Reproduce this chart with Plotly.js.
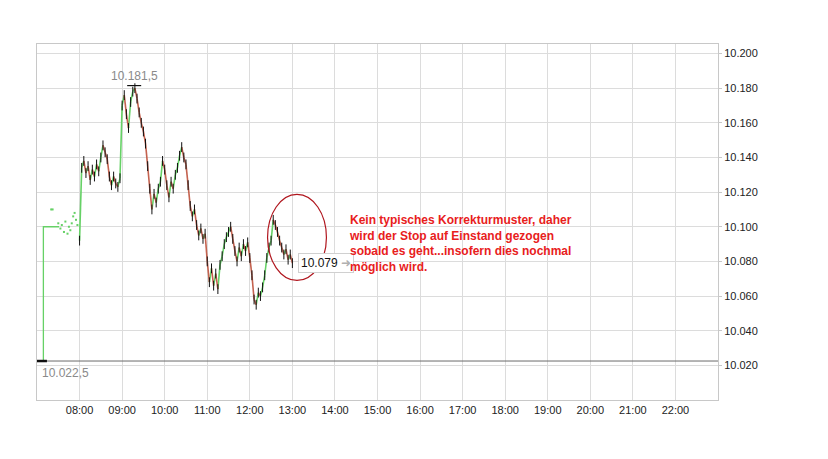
<!DOCTYPE html>
<html>
<head>
<meta charset="utf-8">
<script src="https://cdn.plot.ly/plotly-3.0.1.min.js"></script>
<style>html,body{margin:0;padding:0;background:#fff;}#chart{width:828px;height:459px;}</style>
</head>
<body>
<div id="chart"></div>
<script>
// ---- data ----
const day = '2016-01-01 ';
// pre-market (07:00 - 08:00)
const preLineTimes = ['07:09', '07:09', '07:31'];
const preLineValues = [10022.5, 10100, 10100];
const preDotTimes = ['07:20', '07:22', '07:30', '07:33', '07:35', '07:38', '07:40', '07:43', '07:45', '07:47', '07:49', '07:51', '07:53', '07:55', '07:57'];
const preDotValues = [10110, 10110, 10102, 10099, 10101, 10097, 10103, 10096, 10100, 10098, 10102, 10106, 10108, 10104, 10101];
// regular session, 3-minute closes from 08:00 to 13:00
const sessionStart = '08:00';
const stepMinutes = 3;
const closes = [
  10092, 10134, 10138, 10131, 10135, 10127, 10133, 10129, 10136, 10132,
  10140, 10147, 10143, 10139, 10129, 10124, 10129, 10125, 10123, 10128,
  10170, 10176, 10165, 10157, 10172, 10178, 10180, 10174, 10166, 10160,
  10155, 10148, 10135, 10122, 10110, 10119, 10114, 10122, 10126, 10138,
  10133, 10124, 10117, 10126, 10122, 10130, 10134, 10141, 10146, 10140,
  10136, 10124, 10112, 10106, 10110, 10101, 10095, 10099, 10093, 10096,
  10080, 10068, 10076, 10066, 10073, 10064, 10078, 10083, 10090, 10094,
  10097, 10100, 10093, 10086, 10080, 10088, 10083, 10090, 10086, 10091,
  10082, 10072, 10058, 10055, 10062, 10060, 10065, 10072, 10082, 10088,
  10092, 10104, 10101, 10097, 10092, 10088, 10084, 10087, 10081, 10084,
  10079
];
const prevClose = 10022.5;
const prevCloseTime = '07:00';
const dayHigh = 10181.5;
const dayHighTime = '09:17';
const lastPrice = 10079;
const xTickLabels = ['08:00','09:00','10:00','11:00','12:00','13:00','14:00','15:00','16:00','17:00','18:00','19:00','20:00','21:00','22:00'];
const yTicks = [10020, 10040, 10060, 10080, 10100, 10120, 10140, 10160, 10180, 10200];
const noteLines = [
  'Kein typisches Korrekturmuster, daher',
  'wird der Stop auf Einstand gezogen',
  'sobald es geht...insofern dies nochmal',
  'möglich wird.'
];

// ---- helpers ----
function t(hm){ return day + hm; }
function addMin(hm, m){
  const [h, mm] = hm.split(':').map(Number);
  const tot = h*60 + mm + m;
  const H = Math.floor(tot/60), M = tot % 60;
  return String(H).padStart(2,'0') + ':' + String(M).padStart(2,'0');
}
function de(v){
  const neg = v < 0; v = Math.abs(v);
  const parts = (v % 1 ? v.toFixed(1) : v.toFixed(0)).split('.');
  const intp = parts[0].replace(/\B(?=(\d{3})+(?!\d))/g, '.');
  return (neg?'-':'') + intp + (parts[1] ? ',' + parts[1] : '');
}

const times = closes.map((_, i) => t(addMin(sessionStart, i*stepMinutes)));
const upX = [], upY = [], dnX = [], dnY = [];
for (let i = 1; i < closes.length; i++) {
  const tx = closes[i] >= closes[i-1] ? [upX, upY] : [dnX, dnY];
  tx[0].push(times[i-1], times[i], null);
  tx[1].push(closes[i-1], closes[i], null);
}

const GREEN = '#66d166', RED = '#c4624f';
const traces = [
  { x: [t('07:00'), t('23:00')], y: [prevClose, prevClose], mode: 'lines',
    line: {color: '#6a6a6a', width: 1}, hoverinfo: 'skip' },
  { x: preLineTimes.map(t), y: preLineValues, mode: 'lines', line: {color: GREEN, width: 1.3}, hoverinfo: 'skip' },
  { x: preDotTimes.map(t), y: preDotValues, mode: 'markers', marker: {color: GREEN, size: 2, symbol: 'square'}, hoverinfo: 'skip' },
  { x: [t(prevCloseTime), t(addMin(prevCloseTime, 14))], y: [prevClose, prevClose], mode: 'lines',
    line: {color: '#111', width: 2.5}, hoverinfo: 'skip' },
  { x: upX, y: upY, mode: 'lines', line: {color: GREEN, width: 1.6}, connectgaps: false, hoverinfo: 'skip' },
  { x: dnX, y: dnY, mode: 'lines', line: {color: RED, width: 1.6}, connectgaps: false, hoverinfo: 'skip' },
  { x: times, y: closes, mode: 'markers',
    marker: {symbol: 'line-ns-open', size: 7, color: '#111', line: {width: 1, color: '#111'}}, hoverinfo: 'skip' },
  { x: [t(dayHighTime)], y: [dayHigh], mode: 'markers', marker: {symbol: 'line-ew-open', size: 10, color: '#111', line: {width: 1.2, color: '#111'}}, hoverinfo: 'skip' }
];

const layout = {
  width: 828, height: 459,
  margin: {l: 37, r: 110, t: 44, b: 59},
  paper_bgcolor: '#fff', plot_bgcolor: '#fff',
  showlegend: false,
  separators: ',.',
  font: {family: 'Arial, "Liberation Sans", sans-serif', size: 11, color: '#222'},
  xaxis: {
    type: 'date',
    range: [t('07:00'), t('23:00')],
    tickvals: xTickLabels.map(t), ticktext: xTickLabels,
    showgrid: true, gridcolor: '#dcdcdc', gridwidth: 1,
    showline: true, linecolor: '#c8c8c8', linewidth: 1, mirror: true,
    zeroline: false, ticks: '', fixedrange: true,
    tickfont: {size: 11, color: '#222'}
  },
  yaxis: {
    side: 'right',
    range: [10000, 10205.5],
    tickvals: yTicks, tickformat: ',d',
    showgrid: true, gridcolor: '#dcdcdc', gridwidth: 1,
    showline: true, linecolor: '#c8c8c8', linewidth: 1, mirror: true,
    zeroline: false, ticks: 'outside', ticklen: 3, tickcolor: '#c8c8c8',
    tickfont: {size: 11, color: '#222'}, fixedrange: true
  },
  shapes: [
    { type: 'circle', xref: 'x', yref: 'y',
      x0: t('12:25'), x1: t('13:48'), y0: 10069, y1: 10118.7,
      line: {color: '#b0161e', width: 1.2} }
  ],
  annotations: [
    { x: t(dayHighTime), y: dayHigh, xref: 'x', yref: 'y', text: de(dayHigh),
      showarrow: false, yanchor: 'bottom', yshift: 1,
      font: {size: 12, color: '#8a8a8a'} },
    { x: t(prevCloseTime), y: prevClose, xref: 'x', yref: 'y', text: de(prevClose),
      showarrow: false, xanchor: 'left', yanchor: 'top', xshift: 3, yshift: -3,
      font: {size: 12, color: '#8a8a8a'} },
    { x: times[times.length-1], y: lastPrice, xref: 'x', yref: 'y',
      text: de(lastPrice) + ' <span style="color:#b0b0b0">&#10140;</span>',
      showarrow: false, xanchor: 'left', yanchor: 'middle', xshift: 6,
      bgcolor: '#fff', bordercolor: '#d0d0d0', borderwidth: 1, borderpad: 2,
      font: {size: 12, color: '#111'} },
    { x: 0.4552, y: 0.441, xref: 'paper', yref: 'paper',
      text: noteLines.map(s => '<b>' + s + '</b>').join('<br>'),
      showarrow: false, xanchor: 'left', yanchor: 'middle', align: 'left',
      font: {size: 12, color: '#e8201c', family: 'Arial, "Liberation Sans", sans-serif'} }
  ]
};

Plotly.newPlot('chart', traces, layout, {displayModeBar: false, staticPlot: true});
</script>
</body>
</html>
